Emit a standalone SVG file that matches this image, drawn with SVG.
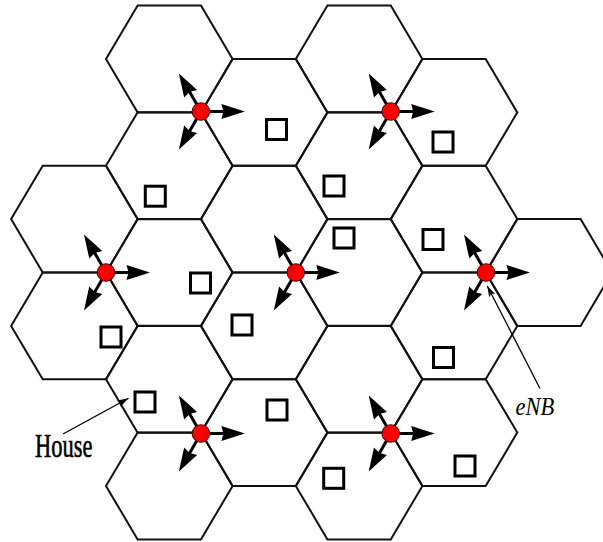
<svg xmlns="http://www.w3.org/2000/svg" xmlns:xlink="http://www.w3.org/1999/xlink" width="603" height="542" viewBox="0 0 603 542">
  <style>
    .cell { fill: none; stroke: #111; stroke-width: 2; stroke-linejoin: miter; }
    .house { fill: #fff; stroke: #000; stroke-width: 3; }
    .shaft { stroke: #000; stroke-width: 3; fill: none; }
    .head { fill: #000; stroke: none; }
    .site { fill: #ff0000; stroke: #200; stroke-width: 0.9; }
    .note { stroke: #000; stroke-width: 1.3; fill: none; }
    .lbl { font-family: "Liberation Serif", "Times New Roman", serif; fill: #000; }
  </style>
  <defs>
    <!-- flat-top hexagonal cell, centred on the origin -->
    <path id="hx" d="M-63.3,0 L-31.65,-53.4 L31.65,-53.4 L63.3,0 L31.65,53.4 L-31.65,53.4 Z"/>
    <!-- one sector arrow pointing along +x -->
    <g id="ray">
      <line class="shaft" x1="0" y1="0" x2="23" y2="0"/>
      <path class="head" d="M44,0 L20.5,-7.5 L22.5,0 L20.5,7.5 Z"/>
    </g>
    <!-- three-sector base station -->
    <g id="bs">
      <use xlink:href="#ray"/>
      <use xlink:href="#ray" transform="rotate(-120)"/>
      <use xlink:href="#ray" transform="rotate(120)"/>
      <circle class="site" r="8.8"/>
    </g>
    <marker id="tip" viewBox="0 0 11 7" refX="11" refY="3.5" markerWidth="11" markerHeight="7" markerUnits="userSpaceOnUse" orient="auto">
      <path d="M0,0 L11,3.5 L0,7 L2.5,3.5 Z" fill="#000"/>
    </marker>
  </defs>

  <!-- hexagonal cells -->
  <g id="cells">
    <use class="cell" xlink:href="#hx" x="74.4" y="219.1"/>
    <use class="cell" xlink:href="#hx" x="74.4" y="325.9"/>

    <use class="cell" xlink:href="#hx" x="169.3" y="59"/>
    <use class="cell" xlink:href="#hx" x="169.3" y="165.75"/>
    <use class="cell" xlink:href="#hx" x="169.3" y="272.5"/>
    <use class="cell" xlink:href="#hx" x="169.3" y="379.25"/>
    <use class="cell" xlink:href="#hx" x="169.3" y="486"/>

    <use class="cell" xlink:href="#hx" x="264.2" y="112.4"/>
    <use class="cell" xlink:href="#hx" x="264.2" y="219.1"/>
    <use class="cell" xlink:href="#hx" x="264.2" y="325.9"/>
    <use class="cell" xlink:href="#hx" x="264.2" y="432.6"/>

    <use class="cell" xlink:href="#hx" x="359.1" y="59"/>
    <use class="cell" xlink:href="#hx" x="359.1" y="165.75"/>
    <use class="cell" xlink:href="#hx" x="359.1" y="272.5"/>
    <use class="cell" xlink:href="#hx" x="359.1" y="379.25"/>
    <use class="cell" xlink:href="#hx" x="359.1" y="486"/>

    <use class="cell" xlink:href="#hx" x="454" y="112.4"/>
    <use class="cell" xlink:href="#hx" x="454" y="219.1"/>
    <use class="cell" xlink:href="#hx" x="454" y="325.9"/>
    <use class="cell" xlink:href="#hx" x="454" y="432.6"/>

    <use class="cell" xlink:href="#hx" x="548.9" y="272.5"/>
  </g>

  <!-- houses -->
  <g id="houses">
    <rect id="house1" class="house" x="266.5" y="119.5" width="20" height="20"/>
    <rect id="house2" class="house" x="433" y="132" width="20" height="20"/>
    <rect id="house3" class="house" x="145.3" y="186.2" width="20" height="20"/>
    <rect id="house4" class="house" x="324" y="176" width="20" height="20"/>
    <rect id="house5" class="house" x="334" y="228" width="20" height="20"/>
    <rect id="house6" class="house" x="423" y="229.5" width="20" height="20"/>
    <rect id="house7" class="house" x="190.5" y="273" width="20" height="20"/>
    <rect id="house8" class="house" x="232" y="315" width="20" height="20"/>
    <rect id="house9" class="house" x="101" y="327" width="20" height="20"/>
    <rect id="house10" class="house" x="433.5" y="347.5" width="20" height="20"/>
    <rect id="house11" class="house" x="135" y="392" width="20" height="20"/>
    <rect id="house12" class="house" x="267" y="400" width="20" height="20"/>
    <rect id="house13" class="house" x="323.7" y="468.3" width="20" height="20"/>
    <rect id="house14" class="house" x="455" y="456" width="20" height="20"/>
  </g>

  <!-- base stations -->
  <g id="enb1"><use xlink:href="#bs" x="200.9" y="111.5"/></g>
  <g id="enb2"><use xlink:href="#bs" x="390.7" y="111.5"/></g>
  <g id="enb3"><use xlink:href="#bs" x="106" y="272.5"/></g>
  <g id="enb4"><use xlink:href="#bs" x="295.8" y="272.5"/></g>
  <g id="enb5"><use xlink:href="#bs" x="486" y="272.5"/></g>
  <g id="enb6"><use xlink:href="#bs" x="200.9" y="433.5"/></g>
  <g id="enb7"><use xlink:href="#bs" x="390.7" y="433.5"/></g>

  <!-- annotation leaders -->
  <g id="connectors">
    <line class="note" x1="63" y1="434" x2="128.5" y2="398.3" marker-end="url(#tip)"/>
    <line class="note" x1="540" y1="388.5" x2="487.3" y2="286" marker-end="url(#tip)"/>
  </g>

  <!-- labels -->
  <g id="label-house">
    <text class="lbl" font-size="22.5" stroke="#000" stroke-width="0.4" transform="translate(35,457) scale(1,1.5)">House</text>
  </g>
  <g id="label-enb">
    <text class="lbl" font-size="22.5" font-style="italic" transform="translate(515.5,415) scale(1,1.13)">eNB</text>
  </g>
</svg>
